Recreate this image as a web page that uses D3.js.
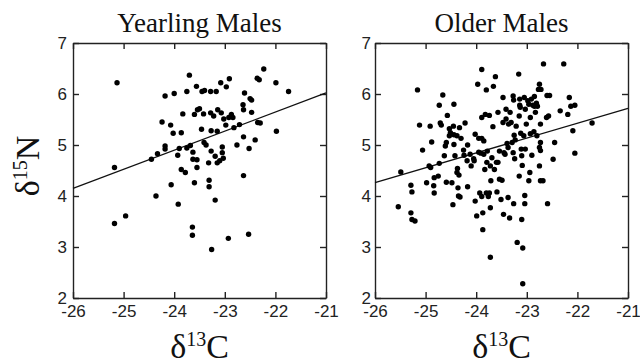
<!DOCTYPE html>
<html>
<head>
<meta charset="utf-8">
<script src="https://cdn.jsdelivr.net/npm/d3@7"></script>
<style>
  body { margin: 0; background: #fff; }
  .tick text { font-family: "Liberation Sans", Arial, sans-serif; font-size: 17px; fill: #222; }
  .axis path, .axis line { stroke: #222; stroke-width: 1.4; }
</style>
</head>
<body>
<div id="chart"></div>
<script>
// panel titles
var panelTitles = ["Yearling Males", "Older Males"];

// tick values
var xTicks = [-26, -25, -24, -23, -22, -21];
var yTicks = [2, 3, 4, 5, 6, 7];

// [d13C, d15N]
var yearlingPoints = [
  [-25.13,6.22],[-25.18,4.56],[-25.18,3.46],[-24.96,3.61],[-24.36,4.0],[-24.45,4.72],
  [-24.33,4.83],[-24.24,5.45],[-24.18,5.96],[-24.18,4.98],[-24.18,4.92],[-24.06,4.22],
  [-24.07,5.39],[-24.02,5.23],[-24.0,6.01],[-23.93,4.80],[-23.92,3.84],[-23.9,4.93],
  [-23.86,5.24],[-23.86,4.52],[-23.83,5.61],[-23.78,4.46],[-23.75,4.94],[-23.75,6.05],
  [-23.7,6.37],[-23.68,4.99],[-23.63,4.86],[-23.63,4.72],[-23.64,3.39],[-23.64,3.23],
  [-23.6,4.26],[-23.6,5.6],[-23.56,6.15],[-23.55,4.71],[-23.55,4.56],[-23.54,5.69],
  [-23.5,5.71],[-23.46,5.31],[-23.45,6.05],[-23.42,5.61],[-23.41,5.05],[-23.37,5.0],
  [-23.4,6.07],[-23.32,4.65],[-23.31,4.31],[-23.31,4.18],[-23.28,6.05],[-23.27,4.88],
  [-23.28,5.63],[-23.27,5.28],[-23.26,2.95],[-23.22,5.57],[-23.19,3.92],[-23.19,4.78],
  [-23.15,4.65],[-23.17,6.05],[-23.15,5.27],[-23.14,5.69],[-23.1,4.69],[-23.08,6.22],
  [-23.07,5.63],[-23.05,4.96],[-23.05,4.85],[-23.03,4.74],[-23.02,5.51],[-22.97,6.14],
  [-22.98,5.39],[-22.93,3.17],[-22.91,6.3],[-22.92,5.54],[-22.87,5.6],[-22.84,5.54],
  [-22.82,5.34],[-22.76,5.0],[-22.71,5.4],[-22.64,5.79],[-22.63,5.16],[-22.63,4.4],
  [-22.63,5.69],[-22.61,6.02],[-22.53,3.25],[-22.52,4.93],[-22.5,5.91],[-22.47,5.88],
  [-22.47,5.64],[-22.4,5.1],[-22.36,6.31],[-22.32,6.28],[-22.35,5.44],[-22.3,5.43],
  [-22.23,6.49],[-21.99,6.22],[-21.98,5.27],[-21.74,6.05]
];

var olderPoints = [
  [-25.54,3.79],[-25.49,4.47],[-25.29,4.21],[-25.27,4.08],[-25.29,3.67],[-25.27,3.54],
  [-25.21,3.51],[-25.16,6.08],[-25.12,5.39],[-25.06,4.9],[-24.91,5.37],[-24.88,5.06],
  [-24.93,4.59],[-24.9,4.56],[-24.98,4.26],[-24.84,4.2],[-24.83,4.06],[-24.83,4.36],
  [-24.75,4.39],[-24.73,4.64],[-24.73,5.78],[-24.71,5.43],[-24.69,5.39],[-24.66,5.98],
  [-24.61,4.98],[-24.63,4.79],[-24.59,4.27],[-24.59,5.05],[-24.57,5.58],[-24.53,5.32],
  [-24.53,5.18],[-24.51,5.24],[-24.48,4.26],[-24.46,3.83],[-24.45,5.37],[-24.44,5.8],
  [-24.44,5.2],[-24.44,5.01],[-24.42,4.79],[-24.38,5.18],[-24.38,4.46],[-24.37,4.54],
  [-24.36,4.16],[-24.35,4.0],[-24.34,4.41],[-24.33,5.34],[-24.32,3.98],[-24.3,5.13],
  [-24.25,4.9],[-24.24,4.8],[-24.22,5.43],[-24.18,4.69],[-24.17,4.18],[-24.17,5.0],
  [-24.12,4.82],[-24.1,4.59],[-24.05,4.73],[-24.04,4.69],[-24.02,5.21],[-24.02,3.9],
  [-23.99,3.61],[-23.97,6.19],[-23.95,5.13],[-23.95,4.86],[-23.93,4.06],[-23.91,4.84],
  [-23.89,6.48],[-23.89,5.54],[-23.89,5.13],[-23.89,3.99],[-23.87,3.34],[-23.87,3.67],
  [-23.85,5.08],[-23.85,4.82],[-23.83,4.52],[-23.82,5.6],[-23.8,4.06],[-23.8,6.08],
  [-23.79,4.66],[-23.78,4.88],[-23.76,3.99],[-23.74,4.06],[-23.74,5.58],[-23.72,3.77],
  [-23.72,2.8],[-23.72,4.59],[-23.71,4.3],[-23.69,4.75],[-23.67,5.36],[-23.66,6.15],
  [-23.62,6.34],[-23.64,4.52],[-23.6,4.66],[-23.59,4.08],[-23.57,4.66],[-23.57,5.64],
  [-23.54,4.88],[-23.54,4.33],[-23.51,3.93],[-23.49,4.31],[-23.47,5.93],[-23.47,5.44],
  [-23.46,3.64],[-23.45,4.85],[-23.43,4.82],[-23.41,5.7],[-23.41,5.51],[-23.39,5.03],
  [-23.37,4.95],[-23.37,3.97],[-23.36,5.41],[-23.33,5.64],[-23.34,3.57],[-23.31,5.44],
  [-23.29,5.05],[-23.27,5.96],[-23.27,4.85],[-23.26,5.88],[-23.26,3.85],[-23.25,5.19],
  [-23.24,4.73],[-23.23,5.1],[-23.21,5.37],[-23.19,3.09],[-23.16,6.39],[-23.15,5.57],
  [-23.15,4.39],[-23.14,5.9],[-23.14,5.78],[-23.13,5.74],[-23.12,5.23],[-23.11,4.92],
  [-23.1,4.79],[-23.09,4.6],[-23.1,3.54],[-23.08,2.98],[-23.08,2.28],[-23.06,5.18],
  [-23.05,5.93],[-23.04,4.01],[-23.04,3.85],[-23.03,5.7],[-23.03,4.92],[-23.01,5.41],
  [-22.98,5.87],[-22.96,4.3],[-22.96,5.8],[-22.94,4.46],[-22.93,5.22],[-22.93,5.54],
  [-22.91,5.9],[-22.9,4.8],[-22.88,5.78],[-22.86,5.26],[-22.85,5.95],[-22.85,5.76],
  [-22.83,5.64],[-22.81,5.82],[-22.8,5.18],[-22.79,5.76],[-22.77,6.09],[-22.75,6.19],
  [-22.75,4.59],[-22.73,5.41],[-22.75,4.95],[-22.73,5.05],[-22.73,4.89],[-22.73,4.3],
  [-22.72,6.09],[-22.68,4.3],[-22.67,6.59],[-22.61,5.54],[-22.6,5.97],[-22.59,3.85],
  [-22.57,5.57],[-22.55,5.97],[-22.48,4.72],[-22.45,5.05],[-22.34,5.67],[-22.27,6.59],
  [-22.19,5.6],[-22.16,5.93],[-22.13,5.76],[-22.09,5.28],[-22.05,5.78],[-22.05,4.84],
  [-21.71,5.43]
];

// regression lines, endpoints at x = -26 and x = -21
var yearlingFit = [[-26, 4.15], [-21, 6.02]];
var olderFit = [[-26, 4.26], [-21, 5.72]];

var w = 640, h = 362;
var svg = d3.select("#chart").append("svg")
  .attr("width", w).attr("height", h);

var panels = [
  {title: panelTitles[0], points: yearlingPoints, fit: yearlingFit, left: 73, right: 326, ylab: true, pad: 6},
  {title: panelTitles[1], points: olderPoints, fit: olderFit, left: 375, right: 628, ylab: false, pad: 4}
];
var plotTop = 43, plotBottom = 298;
var fmt = function(d) { return String(d); };

panels.forEach(function(p) {
  var xScale = d3.scaleLinear().domain([-26, -21]).range([p.left, p.right]);
  var yScale = d3.scaleLinear().domain([2, 7]).range([plotBottom, plotTop]);
  var g = svg.append("g");

  // axes, ticks pointing inward
  g.append("g").attr("class", "axis")
    .attr("transform", "translate(0," + plotBottom + ")")
    .call(d3.axisBottom(xScale).tickValues(xTicks).tickFormat(fmt).tickSizeInner(-6).tickSizeOuter(0).tickPadding(7));
  g.append("g").attr("class", "axis")
    .attr("transform", "translate(0," + plotTop + ")")
    .call(d3.axisTop(xScale).tickValues(xTicks).tickSizeInner(-6).tickSizeOuter(0).tickFormat(""));
  g.append("g").attr("class", "axis")
    .attr("transform", "translate(" + p.left + ",0)")
    .call(d3.axisLeft(yScale).tickValues(yTicks).tickFormat(fmt).tickSizeInner(-6).tickSizeOuter(0).tickPadding(p.pad));
  g.append("g").attr("class", "axis")
    .attr("transform", "translate(" + p.right + ",0)")
    .call(d3.axisRight(yScale).tickValues(yTicks).tickSizeInner(-6).tickSizeOuter(0).tickFormat(""));

  // fitted line
  var line = d3.line()
    .x(function(d) { return xScale(d[0]); })
    .y(function(d) { return yScale(d[1]); });
  g.append("path")
    .datum(p.fit)
    .attr("d", line)
    .attr("fill", "none")
    .attr("stroke", "#111")
    .attr("stroke-width", 1.3);

  g.selectAll("circle")
    .data(p.points)
    .enter()
    .append("circle")
    .attr("cx", function(d) { return xScale(d[0]); })
    .attr("cy", function(d) { return yScale(d[1]); })
    .attr("r", 2.7)
    .attr("fill", "#000");

  // title
  g.append("text")
    .attr("x", (p.left + p.right) / 2)
    .attr("y", 32)
    .attr("text-anchor", "middle")
    .style("font-family", "'Liberation Serif', 'Times New Roman', serif")
    .style("font-size", "27px")
    .attr("fill", "#111")
    .text(p.title);

  // x label
  var xl = g.append("text")
    .attr("x", (p.left + p.right) / 2)
    .attr("y", 358)
    .attr("text-anchor", "middle")
    .style("font-family", "'Liberation Serif', 'Times New Roman', serif")
    .style("font-size", "34px")
    .attr("fill", "#111");
  xl.append("tspan").text("δ");
  xl.append("tspan").attr("dy", -12).style("font-size", "20px").text("13");
  xl.append("tspan").attr("dy", 12).text("C");

  if (p.ylab) {
    var yl = svg.append("text")
      .attr("transform", "translate(39,166) rotate(-90)")
      .attr("text-anchor", "middle")
      .style("font-family", "'Liberation Serif', 'Times New Roman', serif")
      .style("font-size", "34px")
      .attr("fill", "#111");
    yl.append("tspan").text("δ");
    yl.append("tspan").attr("dy", -12).style("font-size", "20px").text("15");
    yl.append("tspan").attr("dy", 12).text("N");
  }
});
</script>
</body>
</html>
